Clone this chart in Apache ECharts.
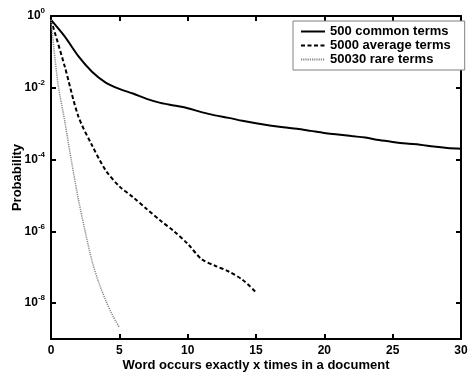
<!DOCTYPE html>
<html>
<head>
<meta charset="utf-8">
<script src="https://cdn.jsdelivr.net/npm/echarts@6/dist/echarts.min.js"></script>
<style>
html,body{margin:0;padding:0;background:#fff;}
#chart{width:469px;height:372px;}
</style>
</head>
<body>
<div id="chart"></div>
<script>
// ---- data ----
const seriesNames = ['500 common terms', '5000 average terms', '50030 rare terms'];

const xCommon = [0,1,2,3,4,5,6,7,8,9,10,11,12,13,14,15,16,17,18,19,20,21,22,23,24,25,26,27,28,29,30];
const yCommon = [0.78,0.27,0.076,0.028,0.014,0.0093,0.0069,0.0049,0.0038,0.0032,0.0027,0.0021,0.0017,0.00145,0.0012,0.00102,
  8.9e-4,7.9e-4,7.2e-4,6.3e-4,5.5e-4,5.0e-4,4.5e-4,4.1e-4,3.5e-4,3.1e-4,2.8e-4,2.6e-4,2.3e-4,2.1e-4,2.0e-4];

const xAverage = [0,1,2,3,4,5,6,7,8,9,10,11,12,13,14,15];
const yAverage = [0.78,0.040,1.6e-3,2.5e-4,5.0e-5,1.8e-5,8.9e-6,4.2e-6,2.0e-6,1.0e-6,4.5e-7,1.7e-7,1.1e-7,7.6e-8,4.5e-8,2.0e-8];

const xRare = [0,0.5,1,1.5,2,2.5,3,3.5,4,4.5,5];
const yRare = [0.78,1.4e-2,1.2e-3,8.9e-5,7.9e-6,1.0e-6,1.5e-7,3.7e-8,1.2e-8,4.6e-9,2.1e-9];

const yTickValues = [1e-8,1e-6,1e-4,1e-2,1];

const xTitle = 'Word occurs exactly x times in a document';
const yTitle = 'Probability';

// ---- build chart ----
const pair = (xs, ys) => xs.map((x, i) => [x, ys[i]]);
const FONT = '"Liberation Sans", Arial, Helvetica, sans-serif';

const chart = echarts.init(document.getElementById('chart'), null, {renderer: 'canvas'});

const tick = (extra) => Object.assign({show: true, inside: true, length: 5, lineStyle: {color: '#000', width: 2}}, extra || {});
const axLine = () => ({show: true, onZero: false, lineStyle: {color: '#000', width: 2}});

chart.setOption({
  animation: false,
  backgroundColor: '#fff',
  grid: {left: 51, right: 8, top: 16, bottom: 33, containLabel: false, outerBoundsMode: 'none'},
  legend: {
    orient: 'vertical',
    left: 293, top: 21,
    padding: [4, 14, 4, 7],
    itemWidth: 24, itemHeight: 10, itemGap: 1,
    backgroundColor: '#fff',
    borderColor: '#808080', borderWidth: 1,
    itemStyle: {opacity: 0},
    textStyle: {fontFamily: FONT, fontWeight: 'bold', fontSize: 13, color: '#000'},
    data: seriesNames
  },
  xAxis: [{
    type: 'value', min: 0, max: 30, interval: 5, position: 'bottom',
    axisLine: axLine(), axisTick: {show: true, inside: false, length: -5, lineStyle: {color: '#000', width: 2}}, splitLine: {show: false},
    axisLabel: {fontFamily: FONT, fontWeight: 'bold', fontSize: 12, color: '#000', margin: 6},
    name: xTitle, nameLocation: 'middle', nameGap: 20, nameMoveOverlap: false,
    nameTextStyle: {fontFamily: FONT, fontWeight: 'bold', fontSize: 13, color: '#000'}
  }, {
    type: 'value', min: 0, max: 30, interval: 5, position: 'top',
    axisLine: axLine(), axisTick: tick(), splitLine: {show: false},
    axisLabel: {show: false}
  }],
  yAxis: [{
    type: 'log', logBase: 10, min: 1e-9, max: 1, position: 'left',
    axisLine: axLine(),
    axisTick: tick({customValues: yTickValues}),
    splitLine: {show: false}, minorTick: {show: false},
    axisLabel: {
      customValues: yTickValues,
      margin: 6,
      formatter: v => '{b|10}{s|' + Math.round(Math.log10(v)) + '}',
      rich: {
        b: {fontFamily: FONT, fontWeight: 'bold', fontSize: 12, color: '#000'},
        s: {fontFamily: FONT, fontWeight: 'bold', fontSize: 8, color: '#000', padding: [0,0,10,0]}
      }
    },
    name: yTitle, nameLocation: 'middle', nameGap: 27, nameRotate: 90, nameMoveOverlap: false,
    nameTextStyle: {fontFamily: FONT, fontWeight: 'bold', fontSize: 13, color: '#000'}
  }, {
    type: 'log', logBase: 10, min: 1e-9, max: 1, position: 'right',
    axisLine: axLine(),
    axisTick: tick({customValues: yTickValues}),
    splitLine: {show: false}, minorTick: {show: false},
    axisLabel: {show: false}
  }],
  series: [{
    name: seriesNames[0], type: 'line', xAxisIndex: 0, yAxisIndex: 0,
    data: pair(xCommon, yCommon), showSymbol: false, symbol: 'none', smooth: 0.3,
    lineStyle: {color: '#000', width: 2, type: 'solid'}, itemStyle: {color: '#000'}
  }, {
    name: seriesNames[1], type: 'line', xAxisIndex: 0, yAxisIndex: 0,
    data: pair(xAverage, yAverage), showSymbol: false, symbol: 'none', smooth: 0.3,
    lineStyle: {color: '#000', width: 2, type: [4, 2.5]}, itemStyle: {color: '#000'}
  }, {
    name: seriesNames[2], type: 'line', xAxisIndex: 0, yAxisIndex: 0,
    data: pair(xRare, yRare), showSymbol: false, symbol: 'none', smooth: 0.3,
    lineStyle: {color: '#888', width: 1.5, type: [1.2, 1]}, itemStyle: {color: '#888'}
  }]
});
</script>
</body>
</html>
